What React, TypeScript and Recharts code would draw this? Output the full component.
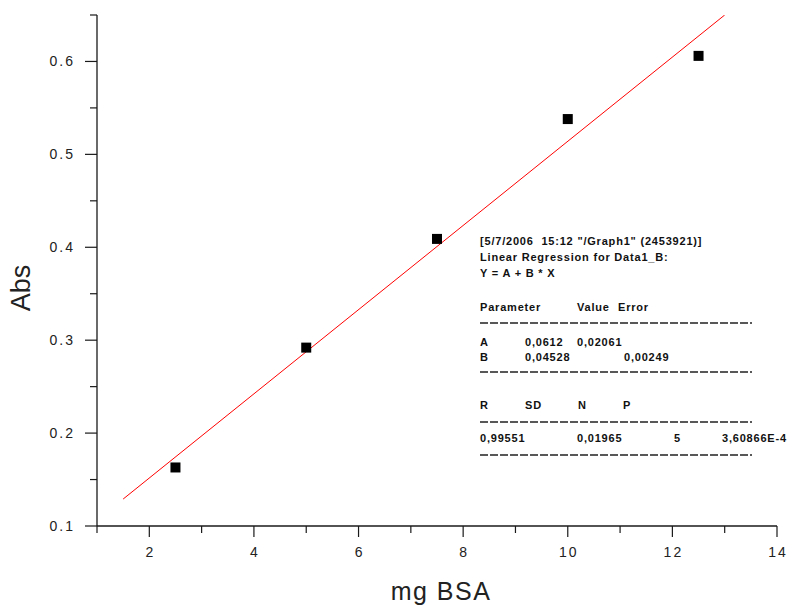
import React from "react";
import { ScatterChart, Scatter, XAxis, YAxis, Label } from "recharts";

const concentration = [2.5, 5, 7.5, 10, 12.5];
const absorbance = [0.163, 0.292, 0.409, 0.538, 0.606];
const fitX = [1.5, 13];
const fitY = [0.129, 0.65];
const xTicks = [1, 2, 3, 4, 5, 6, 7, 8, 9, 10, 11, 12, 13, 14];
const yTicks = [0.1, 0.15, 0.2, 0.25, 0.3, 0.35, 0.4, 0.45, 0.5, 0.55, 0.6, 0.65];

const points = concentration.map((x, i) => ({ x, y: absorbance[i] }));
const fit = fitX.map((x, i) => ({ x, y: fitY[i] }));

const headerLines = [
  '[5/7/2006  15:12 "/Graph1" (2453921)]',
  "Linear Regression for Data1_B:",
  "Y = A + B * X",
];
const paramHeader = ["Parameter", "Value", "Error"];
const paramRows = [
  ["A", "0,0612", "0,02061"],
  ["B", "0,04528", "", "0,00249"],
];
const statHeader = ["R", "SD", "N", "P"];
const statValues = ["0,99551", "0,01965", "5", "3,60866E-4"];

const AXIS = "#1a1a1a";
const TICK_FONT = "Liberation Sans, Arial, sans-serif";

const YTick = (props: any) => {
  const { x, y, payload } = props;
  const v = payload.value as number;
  const major = Math.abs(v * 10 - Math.round(v * 10)) < 1e-6;
  return (
    <g>
      <line x1={x - (major ? 12 : 7)} x2={x} y1={y} y2={y} stroke={AXIS} strokeWidth={1.2} />
      {major && (
        <text
          x={x - 22}
          y={y}
          textAnchor="end"
          dominantBaseline="central"
          fontSize={14}
          letterSpacing={2}
          fill="#222"
          fontFamily={TICK_FONT}
        >
          {v.toFixed(1)}
        </text>
      )}
    </g>
  );
};

const XTick = (props: any) => {
  const { x, y, payload } = props;
  const v = payload.value as number;
  const major = v % 2 === 0;
  return (
    <g>
      <line x1={x} x2={x} y1={y} y2={y + (major ? 11 : 7)} stroke={AXIS} strokeWidth={1.2} />
      {major && (
        <text
          x={x + 1}
          y={y + 26}
          textAnchor="middle"
          dominantBaseline="central"
          fontSize={14}
          letterSpacing={2}
          fill="#222"
          fontFamily={TICK_FONT}
        >
          {v}
        </text>
      )}
    </g>
  );
};

const Square = (props: any) => {
  const { cx, cy } = props;
  return <rect x={cx - 5} y={cy - 5} width={10} height={10} fill="#000" />;
};

const NoShape = () => <g />;

const XTitle = (props: any) => {
  const vb = props.viewBox;
  return (
    <text
      x={vb.x + vb.width / 2 + 4}
      y={vb.y + 74}
      textAnchor="middle"
      fontSize={25}
      letterSpacing={1.5}
      fill="#222"
      fontFamily={TICK_FONT}
    >
      mg BSA
    </text>
  );
};

const YTitle = () => (
  <text
    x={21}
    y={288}
    textAnchor="middle"
    dominantBaseline="central"
    transform="rotate(-90, 21, 288)"
    fontSize={27}
    fill="#222"
    fontFamily={TICK_FONT}
  >
    Abs
  </text>
);

const T = (p: { x: number; y: number; children: React.ReactNode }) => (
  <text
    x={p.x}
    y={p.y}
    dominantBaseline="central"
    fontSize={11}
    fontWeight="bold"
    letterSpacing={0.8}
    fill="#111"
    fontFamily={TICK_FONT}
    style={{ whiteSpace: "pre" }}
  >
    {p.children}
  </text>
);

const Dash = ({ y }: { y: number }) => (
  <line x1={480} x2={752} y1={y} y2={y} stroke="#222" strokeWidth={1.4} strokeDasharray="8 2" />
);

const Annotation = () => (
  <svg
    width={795}
    height={607}
    style={{ position: "absolute", left: 0, top: 0, pointerEvents: "none" }}
  >
    <T x={480} y={241}>{headerLines[0]}</T>
    <T x={480} y={257}>{headerLines[1]}</T>
    <T x={480} y={273}>{headerLines[2]}</T>
    <T x={480} y={307}>{paramHeader[0]}</T>
    <T x={577} y={307}>{paramHeader[1]}</T>
    <T x={618} y={307}>{paramHeader[2]}</T>
    <Dash y={323} />
    <T x={480} y={342}>{paramRows[0][0]}</T>
    <T x={525} y={342}>{paramRows[0][1]}</T>
    <T x={577} y={342}>{paramRows[0][2]}</T>
    <T x={480} y={357}>{paramRows[1][0]}</T>
    <T x={525} y={357}>{paramRows[1][1]}</T>
    <T x={624} y={357}>{paramRows[1][3]}</T>
    <Dash y={372} />
    <T x={480} y={405}>{statHeader[0]}</T>
    <T x={525} y={405}>{statHeader[1]}</T>
    <T x={578} y={405}>{statHeader[2]}</T>
    <T x={623} y={405}>{statHeader[3]}</T>
    <Dash y={422} />
    <T x={480} y={438}>{statValues[0]}</T>
    <T x={577} y={438}>{statValues[1]}</T>
    <T x={674} y={438}>{statValues[2]}</T>
    <T x={722} y={438}>{statValues[3]}</T>
    <Dash y={455} />
  </svg>
);

export default function App() {
  return (
    <div style={{ position: "absolute", left: 0, top: 0, width: 795, height: 607, background: "#fff" }}>
      <ScatterChart
        width={795}
        height={607}
        margin={{ top: 15, right: 18, bottom: 0, left: 0 }}
      >
        <XAxis
          type="number"
          dataKey="x"
          domain={[1, 14]}
          ticks={xTicks}
          interval={0}
          tickSize={0}
          tickMargin={0}
          tickLine={false}
          tick={<XTick />}
          axisLine={{ stroke: AXIS, strokeWidth: 1.3 }}
          height={81}
          allowDataOverflow
        >
          <Label content={<XTitle />} />
        </XAxis>
        <YAxis
          type="number"
          dataKey="y"
          domain={[0.1, 0.65]}
          ticks={yTicks}
          interval={0}
          tickSize={0}
          tickMargin={0}
          tickLine={false}
          tick={<YTick />}
          axisLine={{ stroke: AXIS, strokeWidth: 1.3 }}
          width={97}
          allowDataOverflow
        >
          <Label content={<YTitle />} />
        </YAxis>
        <Scatter
          data={fit}
          line={{ stroke: "#ff0000", strokeWidth: 1 }}
          shape={<NoShape />}
          isAnimationActive={false}
        />
        <Scatter data={points} shape={<Square />} isAnimationActive={false} />
      </ScatterChart>
      <Annotation />
    </div>
  );
}
